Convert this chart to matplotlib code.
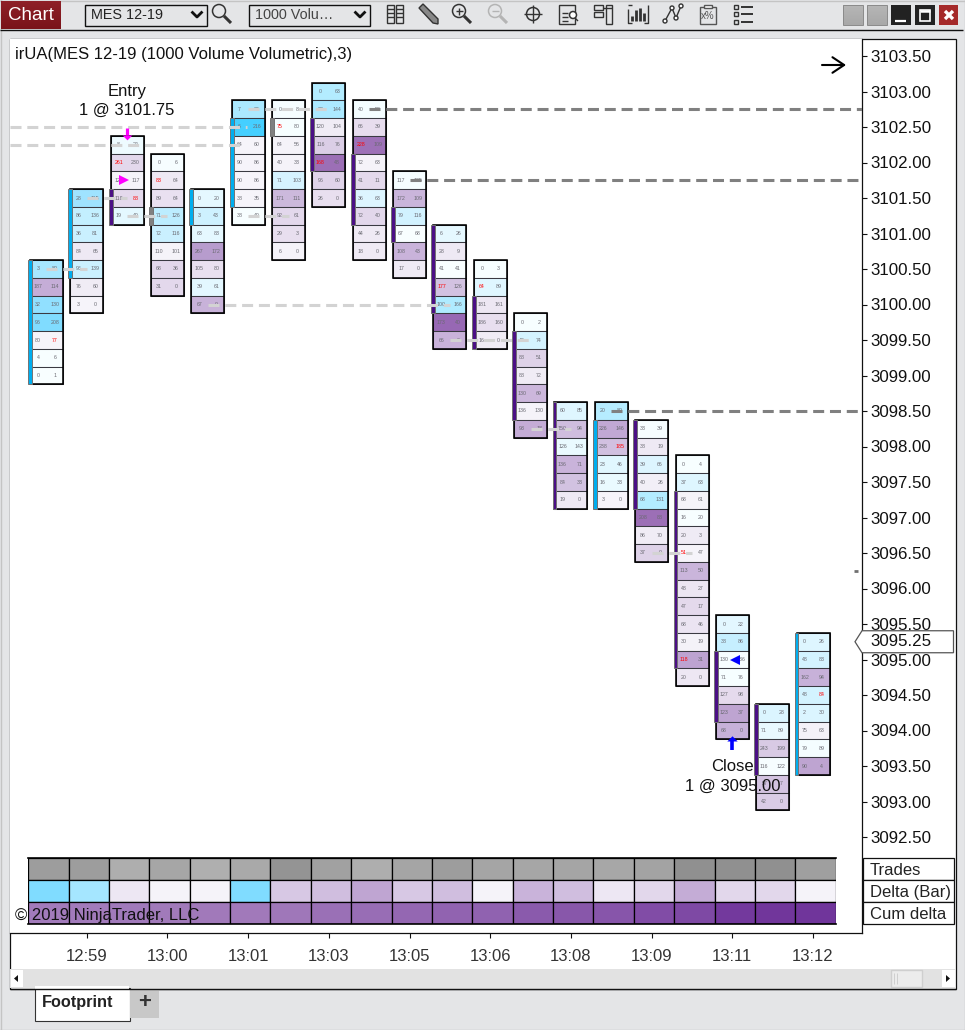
import numpy as np
import matplotlib
matplotlib.use("Agg")
import matplotlib.pyplot as plt
from matplotlib.colors import LinearSegmentedColormap
from matplotlib.patches import Rectangle, Polygon, Circle

plt.rcParams['font.family'] = ['Liberation Sans', 'DejaVu Sans']

# --- datos ---
bar_high = [3100.50, 3101.50, 3102.25, 3102.00, 3101.50, 3102.75, 3102.75, 3103.00, 3102.75, 3101.75,
            3101.00, 3100.50, 3099.75, 3098.50, 3098.50, 3098.25, 3097.75, 3095.50, 3094.25, 3095.25]

bid_vol = [
    [3, 187, 32, 96, 80, 4, 0],
    [28, 86, 36, 84, 96, 76, 3],
    [8, 261, 126, 118, 19],
    [0, 83, 89, 71, 72, 110, 68, 31],
    [0, 3, 63, 267, 105, 39, 67],
    [7, 6, 64, 90, 90, 38, 38],
    [0, 75, 64, 40, 71, 171, 92, 29, 6],
    [0, 73, 120, 116, 168, 96, 26],
    [40, 66, 228, 72, 41, 36, 72, 44, 18],
    [117, 172, 79, 67, 108, 17],
    [6, 28, 41, 177, 100, 173, 66],
    [0, 64, 181, 186, 16],
    [0, 40, 88, 88, 130, 136, 93],
    [60, 150, 126, 136, 84, 19],
    [20, 226, 238, 23, 16, 3],
    [33, 38, 39, 40, 68, 208, 86, 37],
    [0, 37, 68, 16, 20, 51, 113, 48, 47, 68, 30, 118, 20],
    [0, 38, 130, 71, 127, 123, 68],
    [0, 71, 243, 116, 57, 42],
    [0, 48, 162, 48, 2, 75, 79, 90],
]
ask_vol = [
    [80, 114, 130, 208, 77, 6, 1],
    [115, 136, 81, 65, 139, 60, 0],
    [22, 230, 117, 88, 40],
    [6, 64, 64, 126, 116, 101, 36, 0],
    [20, 43, 83, 172, 80, 61, 0],
    [79, 216, 60, 86, 86, 35, 40],
    [8, 80, 56, 33, 103, 111, 61, 3, 0],
    [63, 144, 104, 76, 48, 60, 0],
    [50, 39, 109, 63, 11, 63, 40, 26, 0],
    [125, 109, 116, 68, 43, 0],
    [26, 9, 41, 126, 166, 40, 0],
    [3, 89, 161, 160, 0],
    [2, 74, 51, 72, 69, 130, 18],
    [85, 94, 143, 71, 33, 0],
    [80, 146, 185, 46, 33, 0],
    [39, 19, 66, 26, 131, 88, 70, 0],
    [4, 63, 61, 20, 3, 47, 50, 27, 17, 46, 19, 31, 0],
    [22, 86, 136, 76, 98, 37, 0],
    [28, 89, 199, 122, 7, 0],
    [26, 83, 94, 84, 30, 63, 89, 4],
]
# celdas con texto en rojo: (barra, fila, lado)
red_cells = [(0, 4, 'a'), (2, 1, 'b'), (2, 3, 'a'), (3, 1, 'b'), (6, 1, 'b'), (7, 4, 'b'), (8, 2, 'b'),
             (10, 3, 'b'), (11, 1, 'b'), (14, 2, 'a'), (16, 5, 'b'), (16, 11, 'b'), (19, 3, 'a')]

body_top = [3100.50, 3101.50, 3101.50, 3101.25, 3101.50, 3102.50, 3102.50, 3102.50, 3102.00, 3101.25,
            3101.00, 3100.00, 3099.50, 3098.50, 3098.25, 3098.25, 3097.25, 3095.00, 3094.25, 3095.25]
body_bot = [3099.00, 3100.50, 3101.25, 3101.25, 3101.25, 3101.50, 3102.50, 3102.00, 3101.25, 3101.00,
            3100.00, 3099.50, 3098.50, 3097.25, 3097.25, 3097.25, 3095.00, 3094.25, 3093.50, 3093.50]
body_dir = [1, 1, -1, 0, 1, 1, 0, -1, -1, -1, -1, -1, -1, -1, 1, -1, -1, -1, -1, 1]

# niveles punteados: precio, barra inicial, barra final
soft_levels = [3102.50, 3102.25, 3100.50, 3101.50, 3101.25, 3101.25, 3102.75, 3100.00, 3099.50, 3098.25, 3096.50]
soft_start = [-0.9, -0.9, 0, 1, 2, 5, 5, 4, 10, 12, 15]
soft_end = [4.97, 4.92, 1, 2, 3, 6, 7, 10, 12, 13, 16]
hard_levels = [3102.75, 3101.75, 3098.50]
hard_start = [8, 9, 14]

trades = [560, 560, 400, 470, 390, 450, 640, 520, 400, 480, 560, 480, 470, 480, 460, 500, 680, 680, 680, 540]
delta_bar = [112, 80, -20, -10, -8, 112, -45, -55, -85, -45, -55, -8, -65, -55, -20, -32, -75, -32, -32, -10]
cum_delta = [-140, -140, -150, -155, -160, -160, -190, -270, -300, -370, -420, -430, -520, -560, -580, -680, -720, -900, -940, -950]
row_labels = ['Trades', 'Delta (Bar)', 'Cum delta']

price_ticks = np.arange(3092.5, 3103.51, 0.5)
time_pos = [1, 3, 5, 7, 9, 11, 13, 15, 17, 19]
time_labels = ['12:59', '13:00', '13:01', '13:03', '13:05', '13:06', '13:08', '13:09', '13:11', '13:12']

last_price = 3095.25
entry_price = 3101.75
exit_price = 3095.00

# --- colores del footprint segun delta ---
purple = LinearSegmentedColormap.from_list('pur', [
    (0, '#f6f4fa'), (10 / 140, '#f5f3f9'), (20 / 140, '#ede7f3'), (30 / 140, '#e4d9ec'), (50 / 140, '#d3c3e1'),
    (65 / 140, '#c9b3da'), (85 / 140, '#bfa5d2'), (100 / 140, '#b397ca'), (120 / 140, '#9c6fb6'), (1, '#9565b3')])
blue = LinearSegmentedColormap.from_list('blu', [
    (0, '#f8feff'), (10 / 210, '#f4fdff'), (20 / 210, '#e5f8ff'), (30 / 210, '#d8f4ff'), (45 / 210, '#c9f0ff'),
    (65 / 210, '#b0ebff'), (87 / 210, '#9fe3ff'), (112 / 210, '#80dcff'), (1, '#45cfff')])
greys = LinearSegmentedColormap.from_list('gri', ['#b0b0b0', '#8e8e8e'])
cum_map = LinearSegmentedColormap.from_list('cum', ['#a27bbb', '#70359b'])


def delta_color(d):
    if d < 0:
        return purple(min(-d / 140, 1))
    return blue(min(d / 210, 1))


W, H = 965, 1030
fig = plt.figure(figsize=(W / 100, H / 100), dpi=100, facecolor='#e4e5e7')


def px_axes(l, t, r, b, z):
    return fig.add_axes([l / W, 1 - b / H, (r - l) / W, (b - t) / H], zorder=z)


# --- marco de la ventana, en pixeles ---
bg = px_axes(0, 0, W, H, 0)
bg.set_xlim(0, W)
bg.set_ylim(H, 0)
bg.axis('off')


def box(a, l, t, r, b, fc='none', ec='none', lw=1, z=2):
    a.add_patch(Rectangle((l, t), r - l, b - t, facecolor=fc, edgecolor=ec, linewidth=lw, zorder=z))


def seg(a, xs, ys, c='#333333', lw=1.0, z=3):
    a.plot(xs, ys, color=c, lw=lw, zorder=z, solid_capstyle='butt')


bg.plot([0, W], [0.5, 0.5], color='#c4c4c4', lw=1)
bg.plot([0, W], [1029.5, 1029.5], color='#c4c4c4', lw=1)
bg.plot([0.5, 0.5], [0, H], color='#c4c4c4', lw=1)
bg.plot([964.5, 964.5], [0, H], color='#c4c4c4', lw=1)
seg(bg, [0, W - 2], [29.5, 29.5], '#111111', 1)
box(bg, 9.5, 38.5, 955.5, 988.5, '#ffffff', '#111111', 0.9)
box(bg, 10, 969, 955, 988, '#e2e2e2')
seg(bg, [9.5, 955.5], [988.5, 988.5], '#111111', 1, 4)

# boton Chart
grad = np.linspace(0, 1, 28)[:, None]
red_map = LinearSegmentedColormap.from_list('r', ['#8e2028', '#7a1319'])
bg.imshow(grad, extent=(1, 61, 29, 1), cmap=red_map, aspect='auto', zorder=2)
bg.text(31, 15, 'Chart', color='white', fontsize=13.5, ha='center', va='center', zorder=3)

# desplegables
for l, r, txt, col in [(84.5, 206.5, 'MES 12-19', '#222222'), (248.5, 369.5, '1000 Volu…', '#444444')]:
    box(bg, l, 4.5, r, 25.5, 'none', '#111111', 1)
    bg.text(l + 6.5, 15, txt, fontsize=10.4, color=col, va='center')
    bg.plot([r - 14, r - 9.5, r - 5], [12.5, 17, 12.5], color='#111111', lw=2, zorder=3)


def lens(cx, cy, col='#333333', sign=None):
    bg.add_patch(Circle((cx - 2, cy - 2), 6.5, fill=False, ec=col, lw=1.1, zorder=3))
    seg(bg, [cx + 3, cx + 10], [cy + 3, cy + 10], col, 2.2)
    if sign:
        seg(bg, [cx - 5.5, cx + 1.5], [cy - 2, cy - 2], col, 1)
    if sign == '+':
        seg(bg, [cx - 2, cx - 2], [cy - 5.5, cy + 1.5], col, 1)


lens(221, 13)
lens(461, 13, sign='+')
lens(497, 13, '#b4b4b4', sign='-')
# columnas
for x0 in (387, 396):
    box(bg, x0, 5, x0 + 7, 23, 'none', '#333333', 1)
    for yy in (9, 13, 17):
        seg(bg, [x0, x0 + 7], [yy, yy], '#333333', 1)
# lapiz
bg.add_patch(Polygon([(419, 8), (423, 4), (438, 19), (438, 24), (433, 23)], fc='#888888', ec='#333333', lw=1, zorder=3))
# mira
bg.add_patch(Circle((533, 14), 6.5, fill=False, ec='#333333', lw=1.1, zorder=3))
seg(bg, [524, 542], [14, 14])
seg(bg, [533, 533], [5, 23])
# documento
box(bg, 559, 5, 575, 24, 'none', '#333333', 1)
for yy in (13, 17, 21):
    seg(bg, [562, 568], [yy, yy])
bg.add_patch(Circle((573, 15), 3.5, fc='white', ec='#333333', lw=1.1, zorder=4))
seg(bg, [575, 578], [18, 21], z=5)
# paneles
box(bg, 594, 5, 603, 10, 'none', '#333333', 1)
box(bg, 594, 12, 603, 17, 'none', '#333333', 1)
seg(bg, [603, 612], [7.5, 7.5])
box(bg, 606, 5, 612, 24, 'none', '#333333', 1)
# barras
for xx, top in zip((632, 636, 640, 644), (16, 10, 8, 13)):
    seg(bg, [xx, xx], [top, 21], '#333333', 2)
seg(bg, [628, 628, 632], [9, 23, 23])
seg(bg, [628, 632], [5, 5])
seg(bg, [648, 648, 644], [5, 23, 23])
# linea con puntos
seg(bg, [665, 672, 676, 681], [21, 8, 18, 6])
for xx, yy in zip((665, 672, 676, 681), (21, 8, 18, 6)):
    bg.add_patch(Circle((xx, yy), 2, fc='white', ec='#333333', lw=1, zorder=4))
# plantilla
box(bg, 700, 7, 716, 24, 'none', '#555555', 1)
box(bg, 704, 5, 712, 8, 'white', '#555555', 1, 4)
bg.text(708, 16, 'x%', fontsize=7, color='#555555', ha='center', va='center', zorder=4)
# lista
for yy in (6.5, 13.5, 21.5):
    box(bg, 734, yy - 2, 738, yy + 2, 'none', '#333333', 1)
    seg(bg, [741, 753], [yy, yy], '#333333', 1.4)

# botones de ventana
grey_btn = LinearSegmentedColormap.from_list('g', ['#b6b6b6', '#a8a8a8'])
for l in (843, 867):
    bg.imshow(grad, extent=(l, l + 20, 25, 5), cmap=grey_btn, aspect='auto', zorder=2)
    box(bg, l, 5, l + 20, 25, 'none', '#8a8a8a', 0.7, 3)
box(bg, 891, 5, 911, 25, '#222222')
seg(bg, [895, 906], [21, 21], 'white', 1.6)
box(bg, 915, 5, 935, 25, '#222222')
box(bg, 920, 10, 930, 21, 'none', 'white', 1.2, 3)
seg(bg, [920, 930], [11, 11], 'white', 1.8)
box(bg, 939, 5, 958, 25, '#a52a2a')
seg(bg, [945, 953], [11, 19], 'white', 2.4)
seg(bg, [953, 945], [11, 19], 'white', 2.4)
bg.set_xlim(0, W)
bg.set_ylim(H, 0)

# barra de desplazamiento
box(bg, 11, 970, 23, 987, '#ffffff')
bg.add_patch(Polygon([(14, 978.5), (18, 975), (18, 982)], fc='#111111', zorder=3))
box(bg, 942, 970, 955, 987, '#ffffff')
bg.add_patch(Polygon([(950, 978.5), (946, 975), (946, 982)], fc='#111111', zorder=3))
box(bg, 891, 970, 921.5, 987, '#ececec', '#cfcfcf', 1)
seg(bg, [894, 894], [973, 984], '#cfcfcf', 0.7)
seg(bg, [897, 897], [973, 984], '#cfcfcf', 0.7)

# pestanas
box(bg, 34.5, 988, 129.5, 1021, '#ffffff', '#333333', 0.8)
box(bg, 35, 986, 129, 990, '#ffffff', z=3)
bg.text(78, 1003, 'Footprint', fontsize=11.7, fontweight='bold', color='#222222', ha='center', va='center', zorder=4)
box(bg, 130, 989, 159, 1018, '#c8c8c8')
bg.text(144.5, 1003, '+', fontsize=16, fontweight='bold', color='#333333', ha='center', va='center', zorder=4)

# --- panel principal: x = indice de barra, y = precio ---
x0_px, dx_px = 46.4, 40.35
ax = px_axes(10, 38.5, 861.5, 932.5, 2)
ax.set_xlim((10 - x0_px) / dx_px, (861.5 - x0_px) / dx_px)
ax.set_ylim(3103.5 - (932.5 - 56) / 71, 3103.5 - (38.5 - 56) / 71)
ax.set_facecolor('white')
for s in ('left', 'top'):
    ax.spines[s].set_visible(False)
for s in ('right', 'bottom'):
    ax.spines[s].set_linewidth(0.9)
    ax.spines[s].set_color('#111111')

tick = 0.25
bw = 33 / dx_px
for i, top in enumerate(bar_high):
    n = len(bid_vol[i])
    prices = top - tick * np.arange(n)
    cols = [delta_color(a - b) for a, b in zip(ask_vol[i], bid_vol[i])]
    ax.bar([i] * n, [tick] * n, bottom=prices - tick / 2, width=bw, color=cols,
           edgecolor='#3a3a42', linewidth=0.75, zorder=2)
    ax.bar(i, tick * n, bottom=prices[-1] - tick / 2, width=bw, fill=False,
           edgecolor='black', linewidth=1.15, zorder=3)
    for r, p in enumerate(prices):
        bid_c = 'red' if (i, r, 'b') in red_cells else '#6a6a72'
        ask_c = 'red' if (i, r, 'a') in red_cells else '#6a6a72'
        ax.text(i - 0.21, p, str(bid_vol[i][r]), fontsize=3.8, color=bid_c, ha='center', va='center', zorder=4)
        ax.text(i + 0.21, p, str(ask_vol[i][r]), fontsize=3.8, color=ask_c, ha='center', va='center', zorder=4)
    body_c = {1: '#00aeef', -1: '#4b0f85', 0: '#808080'}[body_dir[i]]
    ax.bar(i - bw / 2, body_top[i] - body_bot[i] + tick, bottom=body_bot[i] - tick / 2, width=0.095,
           color=body_c, edgecolor='#737373', linewidth=0.7, zorder=4)

dash = dict(linewidth=2.2, linestyle=(0, (3.6, 1.9)), dash_capstyle='butt', zorder=5)
for lvl, a, b in zip(soft_levels, soft_start, soft_end):
    ax.plot([a, b], [lvl, lvl], color='#d3d3d3', **dash)
for lvl, a in zip(hard_levels, hard_start):
    ax.plot([a, ax.get_xlim()[1]], [lvl, lvl], color='#808080', **dash)
ax.plot([20.02, 20.12], [3096.25, 3096.25], color='#707070', lw=2, solid_capstyle='butt', zorder=5)

# marcas de entrada y salida: vastago + cabeza
head_down = [(-1, 0), (1, 0), (0, -1)]
head_up = [(-1, 0), (1, 0), (0, 1)]
ax.plot([2, 2], [3102.49, 3102.39], color='#ff00ff', lw=2.3, solid_capstyle='butt', zorder=6)
ax.plot([2], [3102.394], marker=head_down, color='#ff00ff', ms=7, mew=0, zorder=6)
ax.plot([17, 17], [3093.73, 3093.86], color='#0000ff', lw=2.6, solid_capstyle='butt', zorder=6)
ax.plot([17], [3093.85], marker=head_up, color='#0000ff', ms=7.5, mew=0, zorder=6)
ax.plot([2 - 0.08], [entry_price], marker='>', color='#ff00ff', ms=7, mew=0, zorder=6)
ax.plot([17 + 0.07], [exit_price], marker='<', color='#0000ff', ms=7, mew=0, zorder=6)
ax.text(2, 3103.005, 'Entry', fontsize=12, ha='center', va='center', color='#111111', zorder=7)
ax.text(2, 3102.735, '1 @ 3101.75', fontsize=12, ha='center', va='center', color='#111111', zorder=7)
ax.text(17, 3093.49, 'Close', fontsize=12, ha='center', va='center', color='#111111', zorder=7)
ax.text(17, 3093.22, '1 @ 3095.00', fontsize=12, ha='center', va='center', color='#111111', zorder=7)

ax.yaxis.tick_right()
ax.set_yticks(price_ticks)
ax.set_yticklabels([f'{p:.2f}' for p in price_ticks], fontsize=12.2, color='#111111')
ax.tick_params(axis='y', length=3.6, width=0.8, pad=2.6, color='#111111')
ax.set_xticks(time_pos)
ax.set_xticklabels(time_labels, fontsize=12, color='#333333')
ax.tick_params(axis='x', length=3.6, width=0.8, pad=8, color='#111111')

# --- tabla inferior ---
tb = px_axes(28.3, 858.3, 835.6, 924.3, 3)
tb.set_xlim(-0.5, 19.5)
tb.set_ylim(3, 0)
tb.axis('off')
xs = np.arange(len(trades))
tb.bar(xs, 1, bottom=0, width=1, color=greys((np.array(trades) - 380) / 320), edgecolor='black', linewidth=0.9)
tb.bar(xs, 1, bottom=1, width=1, color=[delta_color(d) for d in delta_bar], edgecolor='black', linewidth=0.9)
tb.bar(xs, 1, bottom=2, width=1, color=cum_map((-np.array(cum_delta) - 140) / 810), edgecolor='black', linewidth=0.9)
for sp in [0, 3]:
    tb.plot([-0.5, 19.5], [sp, sp], color='black', lw=1.2, clip_on=False)

# --- capa superior ---
fg = px_axes(0, 0, W, H, 5)
fg.set_xlim(0, W)
fg.set_ylim(H, 0)
fg.axis('off')
fg.patch.set_alpha(0)
fg.text(15, 54.5, 'irUA(MES 12-19 (1000 Volume Volumetric),3)', fontsize=12, color='#111111', va='center')
fg.text(15, 915.5, '© 2019 NinjaTrader, LLC', fontsize=12, color='#111111', va='center')
fg.annotate('', xy=(846, 65), xytext=(822, 65),
            arrowprops=dict(arrowstyle='->,head_length=0.3,head_width=0.2', color='black', lw=1.5,
                            mutation_scale=28, shrinkA=0, shrinkB=0))

y_last = 56 + (3103.5 - last_price) * 71
fg.add_patch(Polygon([(855, y_last), (862, y_last - 11), (953.5, y_last - 11), (953.5, y_last + 11), (862, y_last + 11)],
                     fc='white', ec='#555555', lw=0.9))
fg.text(870, y_last, f'{last_price:.2f}', fontsize=12.2, color='#111111', va='center')

for k, lab in enumerate(row_labels):
    t = 858.3 + 22 * k
    box(fg, 862.5, t, 953.5, t + 22, 'white', '#111111', 0.9)
    fg.text(870, t + 12, lab, fontsize=12, color='#222222', va='center')

fig.savefig('out.png', dpi=100, facecolor=fig.get_facecolor())
